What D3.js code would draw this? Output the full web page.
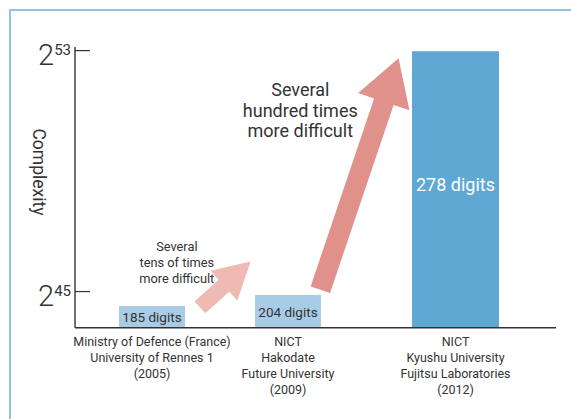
<!DOCTYPE html>
<html>
<head>
<meta charset="utf-8">
<script src="https://cdn.jsdelivr.net/npm/d3@7"></script>
<style>
  body { margin: 0; background: #fff; }
  text { font-family: Roboto, "Noto Sans", sans-serif; fill: #333; }
</style>
</head>
<body>
<svg id="chart" width="571" height="419"></svg>
<script>
// data
var years = [2005, 2009, 2012];
var exponents = [44.52, 44.89, 52.98];   // log2 of complexity
var barLabels = ["185 digits", "204 digits", "278 digits"];
var orgLines = [
  ["Ministry of Defence (France)", "University of Rennes 1", "(2005)"],
  ["NICT", "Hakodate", "Future University", "(2009)"],
  ["NICT", "Kyushu University", "Fujitsu Laboratories", "(2012)"]
];
var tickExps = [45, 53];
var yTitle = "Complexity";
// arrows in (year, exponent) units
var arrowFrom = [[2006.41, 44.475], [2009.58, 45.063]];
var arrowTo = [[2007.90, 45.996], [2010.98, 52.75]];
var noteLines = [
  ["Several", "tens of times", "more difficult"],
  ["Several", "hundred times", "more difficult"]
];
var noteAt = [[2005.73, 46.35], [2009.22, 51.5]];

// layout
var svg = d3.select("#chart");
var x = d3.scaleLinear().domain(years).range([152, 288, 455.5]);
var y = d3.scaleLinear().domain([43.8, 53.12]).range([327.7, 47]);
var barW = [66, 66, 87];
var barFill = ["#a9cce6", "#a9cce6", "#5fa8d3"];
var arrowFill = ["#eebab1", "#e0918b"];
var arrowDims = [[16, 40, 36], [20.5, 54, 46]]; // shaft, head width, head length
var noteSize = [12.8, 18];
var x0 = 75, x1 = 556;

// frame
svg.append("path")
   .attr("d", "M10,419V10H571")
   .style("fill", "none")
   .style("stroke", "#8fc6e7")
   .style("stroke-width", 2);

// bars
svg.selectAll("rect.bar")
   .data(exponents).enter()
   .append("rect")
   .attr("class", "bar")
   .attr("x", function(d, i) { return x(years[i]) - barW[i] / 2; })
   .attr("y", function(d) { return y(d); })
   .attr("width", function(d, i) { return barW[i]; })
   .attr("height", function(d) { return y(43.8) - y(d); })
   .style("fill", function(d, i) { return barFill[i]; });

svg.selectAll("text.bar-label")
   .data(barLabels).enter()
   .append("text")
   .attr("class", "bar-label")
   .attr("text-anchor", "middle")
   .attr("x", function(d, i) { return x(years[i]); })
   .attr("y", function(d, i) {
       if (i === 2) return 191;
       return (y(exponents[i]) + y(43.8)) / 2 + 5.5;
   })
   .style("font-size", function(d, i) { return i === 2 ? "18px" : "13.5px"; })
   .style("fill", function(d, i) { return i === 2 ? "#fff" : "#333"; })
   .text(function(d) { return d; });

// arrows
function arrowPoints(p0, p1, dims) {
    var dx = p1[0] - p0[0], dy = p1[1] - p0[1];
    var len = Math.sqrt(dx * dx + dy * dy);
    var ux = dx / len, uy = dy / len;
    var nx = -uy, ny = ux;
    var bx = p1[0] - ux * dims[2], by = p1[1] - uy * dims[2];
    var s = dims[0] / 2, h = dims[1] / 2;
    return [
        [p0[0] + nx * s, p0[1] + ny * s],
        [bx + nx * s, by + ny * s],
        [bx + nx * h, by + ny * h],
        p1,
        [bx - nx * h, by - ny * h],
        [bx - nx * s, by - ny * s],
        [p0[0] - nx * s, p0[1] - ny * s]
    ];
}

svg.selectAll("polygon.arrow")
   .data(arrowFrom).enter()
   .append("polygon")
   .attr("class", "arrow")
   .attr("points", function(d, i) {
       var p0 = [x(d[0]), y(d[1])];
       var p1 = [x(arrowTo[i][0]), y(arrowTo[i][1])];
       return arrowPoints(p0, p1, arrowDims[i]).map(function(p) { return p.join(","); }).join(" ");
   })
   .style("fill", function(d, i) { return arrowFill[i]; });

// notes
noteLines.forEach(function(lines, i) {
    var t = svg.append("text")
       .attr("text-anchor", "middle")
       .style("font-size", noteSize[i] + "px");
    lines.forEach(function(l, j) {
        t.append("tspan")
         .attr("x", x(noteAt[i][0]))
         .attr("y", y(noteAt[i][1]) + j * (i === 0 ? 16 : 20.8))
         .text(l);
    });
});

// axes
svg.append("line")
   .attr("x1", x0).attr("x2", x0)
   .attr("y1", y(53.12)).attr("y2", y(43.8))
   .style("stroke", "#333").style("stroke-width", 1.4);
svg.append("line")
   .attr("x1", x0).attr("x2", x1)
   .attr("y1", y(43.8)).attr("y2", y(43.8))
   .style("stroke", "#333").style("stroke-width", 1.4);

svg.selectAll("line.tick")
   .data(tickExps).enter()
   .append("line")
   .attr("class", "tick")
   .attr("x1", x0).attr("x2", x0 + 15)
   .attr("y1", function(d) { return y(d); })
   .attr("y2", function(d) { return y(d); })
   .style("stroke", "#333").style("stroke-width", 1.2);

var tl = svg.selectAll("text.tick-label")
   .data(tickExps).enter()
   .append("text")
   .attr("class", "tick-label")
   .attr("text-anchor", "end")
   .attr("x", 71)
   .attr("y", function(d) { return y(d) + 14.5; });
tl.append("tspan").style("font-size", "29px").style("font-weight", 300).text("2");
tl.append("tspan").attr("dy", -10).style("font-size", "15px").text(function(d) { return d; });

svg.append("text")
   .attr("transform", "translate(33,172) rotate(90)")
   .attr("text-anchor", "middle")
   .style("font-size", "17.5px")
   .text(yTitle);

// category labels
orgLines.forEach(function(lines, i) {
    var t = svg.append("text")
       .attr("text-anchor", "middle")
       .style("font-size", "12.5px");
    lines.forEach(function(l, j) {
        t.append("tspan")
         .attr("x", x(years[i]))
         .attr("y", 346 + j * 16)
         .text(l);
    });
});
</script>
</body>
</html>
